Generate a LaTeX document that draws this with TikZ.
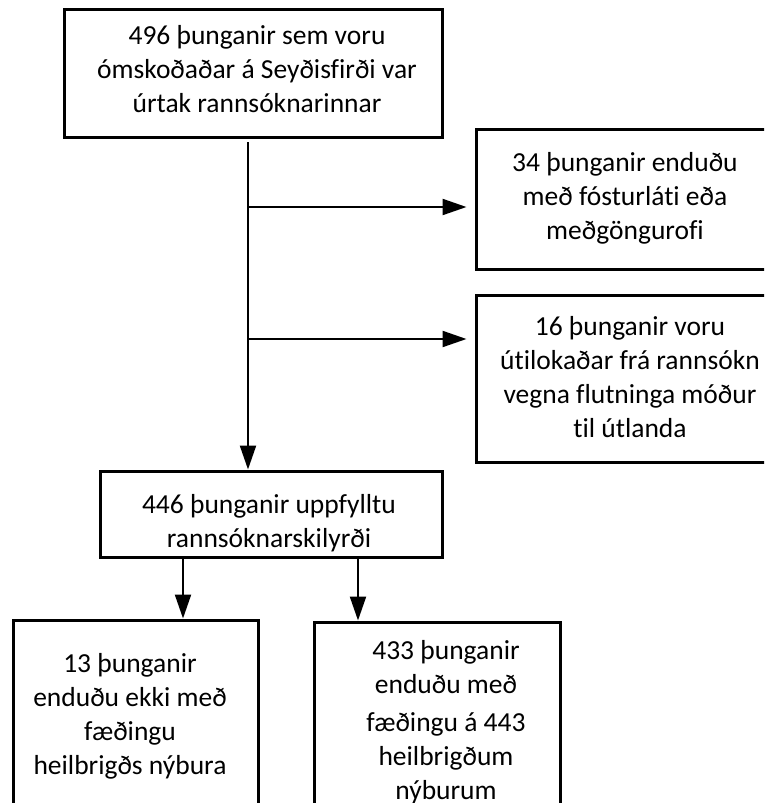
\documentclass[tikz,border=0pt]{standalone}
\usepackage{fontspec}
\setmainfont{Carlito}[Ligatures=NoCommon]
\usetikzlibrary{arrows.meta}
\begin{document}
\begin{tikzpicture}[x=1pt,y=-1pt,
  box/.style={draw=black, line width=3pt, inner sep=0pt, rectangle},
  txt/.style={align=center, inner sep=0pt, font=\fontsize{27.5}{34}\selectfont},
  arr/.style={draw=black, line width=2.2pt, -{Triangle[length=24pt,width=16pt]}},
  plain/.style={draw=black, line width=2.2pt}]
\useasboundingbox (0,0) rectangle (764,803);
\clip (0,0) rectangle (764,803);
\fill[white] (0,0) rectangle (764,803);
% boxes
\node[box, minimum width=378pt, minimum height=128pt] (b0) at (253,73) {};
\node[box, minimum width=298pt, minimum height=140pt] (b1) at (625,199) {};
\node[box, minimum width=298pt, minimum height=167pt] (b2) at (625,378.5) {};
\node[box, minimum width=342pt, minimum height=86pt] (b4) at (271,514) {};
\node[box, minimum width=245pt, minimum height=220pt] (b5) at (135.5,730) {};
\node[box, minimum width=246pt, minimum height=218pt] (b6) at (437,731) {};
% texts
\node[txt] (t0) at (257,69) {496 þunganir sem voru\\ómskoðaðar á Seyðisfirði var\\úrtak rannsóknarinnar};
\node[txt] (t1) at (625,198) {34 þunganir enduðu\\með fósturláti eða\\meðgöngurofi};
\node[txt] (t2) at (630,377) {16 þunganir voru\\útilokaðar frá rannsókn\\vegna flutninga móður\\til útlanda};
\node[txt] (t4) at (269,523) {446 þunganir uppfylltu\\rannsóknarskilyrði};
\node[txt] (t5) at (130,716) {13 þunganir\\enduðu ekki með\\fæðingu\\heilbrigðs nýbura};
\node[txt] (t6) at (446,722) {433 þunganir\\enduðu með\\[4pt]fæðingu á 443\\heilbrigðum\\nýburum};
% connectors
\coordinate (s0) at (248,142);
\coordinate (j1) at (248,207);
\coordinate (j2) at (248,339);
\draw[arr] (s0) -- (s0 |- b4.north);
\draw[arr, shorten >=8pt] (j1) -- (j1 -| b1.west);
\draw[arr, shorten >=8pt] (j2) -- (j2 -| b2.west);
\coordinate (d5) at (183,557);
\coordinate (d6) at (358,557);
\draw[arr] (d5 |- b4.south) -- (d5 |- b5.north);
\draw[arr] (d6 |- b4.south) -- (d6 |- b6.north);
\end{tikzpicture}
\end{document}
